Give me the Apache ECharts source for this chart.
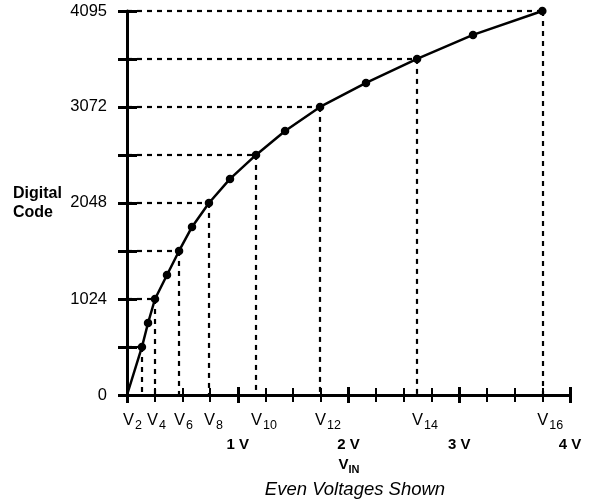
<!DOCTYPE html>
<html><head><meta charset="utf-8">
<script src="https://cdn.jsdelivr.net/npm/echarts@6/dist/echarts.min.js"></script>
<style>html,body{margin:0;padding:0;background:#fff}#c{width:593px;height:504px}</style>
</head><body><div id="c"></div>
<script>
// Input voltage (V) of each transition point V0..V16 (V1 not marked)
const vin = [0, 0.135, 0.19, 0.253, 0.361, 0.47, 0.587, 0.74, 0.93, 1.165, 1.427, 1.743, 2.158, 2.619, 3.124, 3.75];
// Digital code at each point
const codes = [0, 512, 768, 1024, 1280, 1536, 1792, 2048, 2304, 2560, 2816, 3072, 3328, 3584, 3840, 4095];
// Subscripts of the labelled points (even voltages)
const pointNames = ['', '2', '3', '4', '5', '6', '7', '8', '9', '10', '11', '12', '13', '14', '15', '16'];
const evenNames = ['2', '4', '6', '8', '10', '12', '14', '16'];
const yTickLabels = [0, 1024, 2048, 3072, 4095];
const voltTicks = [1, 2, 3, 4];

const FONT = 'Liberation Sans, Arial, Helvetica, sans-serif';

const curve = vin.map((x, i) => i === 0 ? { value: [x, codes[i]], symbol: 'none' } : { value: [x, codes[i]], name: pointNames[i] });
const evenIdx = pointNames.map((n, i) => evenNames.includes(n) ? i : -1).filter(i => i >= 0);

const guideLines = [];
evenIdx.forEach(i => {
  guideLines.push([{ coord: [0, codes[i]] }, { coord: [vin[i], codes[i]] }]);
  guideLines.push([{ coord: [vin[i], codes[i]] }, { coord: [vin[i], 0] }]);
});

const labelShift = { '2': -19, '4': -8 };
const vLabelData = evenIdx.map(i => ({
  value: [vin[i], 0],
  name: pointNames[i],
  label: { offset: [labelShift[pointNames[i]] !== undefined ? labelShift[pointNames[i]] : -5, 0] }
}));

const chart = echarts.init(document.getElementById('c'), null, { renderer: 'canvas' });
chart.setOption({
  animation: false,
  backgroundColor: '#fff',
  grid: { left: 127, right: 23, top: 11, bottom: 109, containLabel: false },
  xAxis: [
    {
      type: 'value', min: 0, max: 4, interval: 1, position: 'bottom',
      axisLine: { show: true, onZero: false, lineStyle: { color: '#000', width: 3 } },
      axisTick: { show: true, length: 8, lineStyle: { color: '#000', width: 3 } },
      minorTick: { show: true, splitNumber: 4, length: 7, lineStyle: { color: '#000', width: 2 } },
      axisLabel: {
        margin: 42, fontSize: 15, fontWeight: 'bold', color: '#000', fontFamily: FONT,
        formatter: v => voltTicks.includes(v) ? v + ' V' : ''
      },
      splitLine: { show: false }, minorSplitLine: { show: false }
    },
    {
      type: 'value', min: 0, max: 4, interval: 1, position: 'bottom',
      axisLine: { show: false, onZero: false },
      axisTick: { show: true, inside: true, length: 8, lineStyle: { color: '#000', width: 3 } },
      minorTick: { show: true, splitNumber: 4, length: 7, lineStyle: { color: '#000', width: 2 } },
      axisLabel: { show: false },
      splitLine: { show: false }, minorSplitLine: { show: false }
    }
  ],
  yAxis: [
    {
      type: 'value', min: 0, max: 4095, interval: 512, position: 'left',
      axisLine: { show: true, onZero: false, lineStyle: { color: '#000', width: 3 } },
      axisTick: { show: true, length: 9, lineStyle: { color: '#000', width: 3 } },
      axisLabel: {
        margin: 20, fontSize: 16.5, color: '#000', fontFamily: FONT,
        showMaxLabel: true,
        formatter: v => yTickLabels.includes(v) ? String(v) : ''
      },
      splitLine: { show: false }
    },
    {
      type: 'value', min: 0, max: 4095, interval: 512, position: 'left',
      axisLine: { show: false, onZero: false },
      axisTick: { show: true, inside: true, length: 10, lineStyle: { color: '#000', width: 3 } },
      axisLabel: { show: false },
      splitLine: { show: false }
    }
  ],
  series: [
    {
      type: 'line', xAxisIndex: 0, yAxisIndex: 0,
      data: curve,
      symbol: 'circle', symbolSize: 8.5, showAllSymbol: true,
      lineStyle: { color: '#000', width: 2.5 },
      itemStyle: { color: '#000' },
      clip: false, z: 5,
      markLine: {
        silent: true, symbol: 'none', animation: false,
        label: { show: false },
        lineStyle: { color: '#000', width: 2.2, type: [5, 5], opacity: 1 },
        emphasis: { disabled: true },
        data: guideLines
      }
    },
    {
      type: 'scatter', xAxisIndex: 0, yAxisIndex: 0,
      data: vLabelData, symbolSize: 0, clip: false, silent: true,
      itemStyle: { color: '#000', opacity: 1 },
      label: {
        show: true, position: 'bottom', distance: 21, align: 'left', color: '#000', opacity: 1,
        formatter: p => '{v|V}{s|' + p.name + '}',
        rich: {
          v: { fontSize: 16.5, fontFamily: FONT, color: '#000', verticalAlign: 'bottom', lineHeight: 16, padding: [0, 0, 3, 0] },
          s: { fontSize: 12.5, fontFamily: FONT, color: '#000', verticalAlign: 'bottom', lineHeight: 13, padding: [0, 0, 0, 1] }
        }
      }
    }
  ],
  graphic: [
    {
      type: 'text', left: 13, top: 184,
      style: { text: 'Digital\nCode', font: 'bold 16px ' + FONT, fill: '#000', lineHeight: 19 }
    },
    {
      type: 'text', x: 349, y: 468,
      style: {
        text: '{v|V}{s|IN}', align: 'center', verticalAlign: 'middle',
        rich: {
          v: { fontSize: 15, fontWeight: 'bold', fontFamily: FONT, fill: '#000', verticalAlign: 'bottom', lineHeight: 15, padding: [0, 0, 3, 0] },
          s: { fontSize: 11, fontWeight: 'bold', fontFamily: FONT, fill: '#000', verticalAlign: 'bottom', lineHeight: 12 }
        }
      }
    },
    {
      type: 'text', x: 355, y: 490,
      style: { text: 'Even Voltages Shown', font: 'italic 18.5px ' + FONT, fill: '#000', align: 'center', verticalAlign: 'middle' }
    }
  ]
});
</script>
</body></html>
